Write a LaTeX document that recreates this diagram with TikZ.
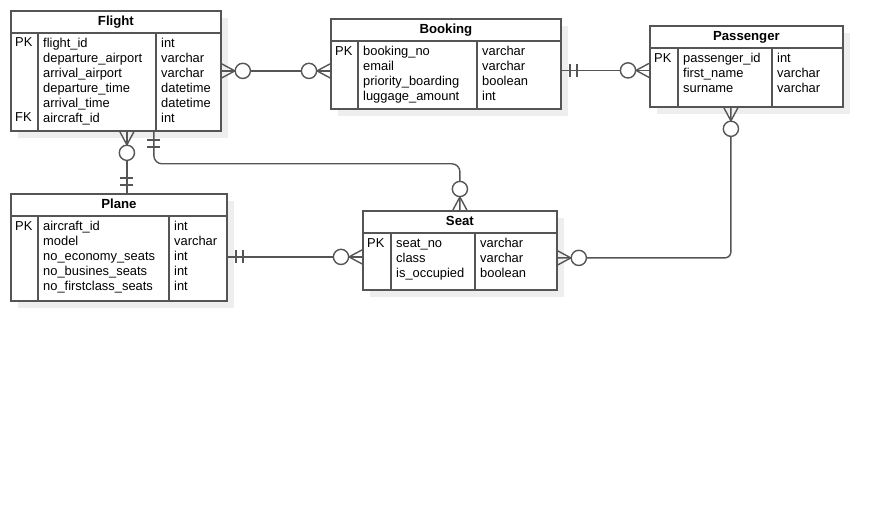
\documentclass[tikz,border=0pt]{standalone}
\usepackage{fontspec}
\setmainfont{Liberation Sans}
\usetikzlibrary{calc,shadows}

\definecolor{erline}{RGB}{85,85,85}
\definecolor{ershadow}{RGB}{238,238,238}

\tikzset{
  tbl/.style={draw=erline, line width=1.8pt, fill=white, rectangle, inner sep=0pt,
    anchor=north west,
    drop shadow={shadow xshift=7pt, shadow yshift=-7pt, fill=ershadow, opacity=1}},
  rule/.style={draw=erline, line width=1.6pt},
  conn/.style={draw=erline, line width=1.4pt},
  hdr/.style={font=\fontsize{13.2}{15}\selectfont\bfseries, inner sep=0pt, anchor=base},
  cell/.style={font=\fontsize{12.9}{15}\selectfont, inner sep=0pt, anchor=base west},
  % relationship end symbols, drawn along +x away from the entity edge
  crowfoot/.pic={\draw[erline, line width=1.4pt] (0,-7) -- (13,0) -- (0,7);},
  zerocirc/.pic={\draw[erline, line width=1.4pt, fill=white] (21,0) circle[radius=7.6];},
  onebars/.pic={\draw[erline, line width=1.5pt] (8,-6.5) -- (8,6.5) (15,-6.5) -- (15,6.5);},
}

% table frame: name, x, y, width, height, key divider, type divider, title
\newcommand\erframe[8]{%
  \node[tbl, minimum width=#4pt, minimum height=#5pt] (#1) at (#2,#3) {};
  \draw[rule] ($(#1.north west)+(0,23)$) -- ($(#1.north east)+(0,23)$);
  \draw[rule] ($(#1.north west)+(#6,23)$) -- ($(#1.south west)+(#6,0)$);
  \draw[rule] ($(#1.north west)+(#7,23)$) -- ($(#1.south west)+(#7,0)$);
  \node[hdr] (#1-title) at ($(#1.north)+(0,15.7)$) {#8};
}
% column of rows: table name, column tag, x offset, entries
\newcommand\ercol[4]{%
  \foreach \t [count=\i] in {#4}
    \node[cell] (#1-#2\i) at ($(#1.north west)+(#3,{38+15*(\i-1)})$) {\t};
}

\begin{document}
\begin{tikzpicture}[x=1pt,y=-1pt]
\fill[white] (0,0) rectangle (881,526);
\useasboundingbox (0,0) rectangle (881,526);

% Flight
\erframe{flight}{10}{10}{210}{120}{28}{146}{Flight}
\node[cell] (flight-pk) at ($(flight.north west)+(5,37)$) {PK};
\node[cell] (flight-fk) at ($(flight.north west)+(5,112)$) {FK};
\ercol{flight}{f}{33}{flight\_id,departure\_airport,arrival\_airport,departure\_time,arrival\_time,aircraft\_id}
\ercol{flight}{t}{151}{int,varchar,varchar,datetime,datetime,int}

% Booking
\erframe{booking}{330}{18}{230}{90}{28}{147}{Booking}
\node[cell] (booking-pk) at ($(booking.north west)+(5,38)$) {PK};
\ercol{booking}{f}{33}{booking\_no,email,priority\_boarding,luggage\_amount}
\ercol{booking}{t}{152}{varchar,varchar,boolean,int}

% Passenger
\erframe{passenger}{649}{25}{193}{81}{29}{123}{Passenger}
\node[cell] (passenger-pk) at ($(passenger.north west)+(5,38)$) {PK};
\ercol{passenger}{f}{34}{passenger\_id,first\_name,surname}
\ercol{passenger}{t}{128}{int,varchar,varchar}

% Plane
\erframe{plane}{10}{193}{216}{107}{28}{159}{Plane}
\node[cell] (plane-pk) at ($(plane.north west)+(5,38)$) {PK};
\ercol{plane}{f}{33}{aircraft\_id,model,no\_economy\_seats,no\_busines\_seats,no\_firstclass\_seats}
\ercol{plane}{t}{164}{int,varchar,int,int,int}

% Seat
\erframe{seat}{362}{210}{194}{79}{29}{113}{Seat}
\node[cell] (seat-pk) at ($(seat.north west)+(5,38)$) {PK};
\ercol{seat}{f}{34}{seat\_no,class,is\_occupied}
\ercol{seat}{t}{118}{varchar,varchar,boolean}

% Flight -- Booking (many to many)
\draw[conn] (flight.east) -- (flight.east -| booking.west);
\pic at (flight.east) {crowfoot}; \pic at (flight.east) {zerocirc};
\pic[rotate=180] at (flight.east -| booking.west) {crowfoot};
\pic[rotate=180] at (flight.east -| booking.west) {zerocirc};

% Booking -- Passenger
\coordinate (bp) at ($(booking.east)+(0,6.5)$);
\draw[conn] (bp) -- (bp -| passenger.west);
\pic at (bp) {onebars};
\pic[rotate=180] at (bp -| passenger.west) {crowfoot};
\pic[rotate=180] at (bp -| passenger.west) {zerocirc};

% Flight -- Plane
\coordinate (fp) at ($(flight.south)+(11,0)$);
\draw[conn] (fp) -- (fp |- plane.north);
\pic[rotate=-90] at (fp) {crowfoot}; \pic[rotate=-90] at (fp) {zerocirc};
\pic[rotate=90] at (fp |- plane.north) {onebars};

% Flight -- Seat
\coordinate (fs) at ($(flight.south)+(38,0)$);
\draw[conn, rounded corners=8] (fs) -- ($(fs)+(0,32)$) -| (seat.north);
\pic[rotate=-90] at (fs) {onebars};
\pic[rotate=90] at (seat.north) {crowfoot}; \pic[rotate=90] at (seat.north) {zerocirc};

% Plane -- Seat
\coordinate (pls) at ($(plane.east)+(0,9.5)$);
\draw[conn] (pls) -- (pls -| seat.west);
\pic at (pls) {onebars};
\pic[rotate=180] at (pls -| seat.west) {crowfoot};
\pic[rotate=180] at (pls -| seat.west) {zerocirc};

% Passenger -- Seat
\coordinate (ps) at ($(passenger.south)+(-15.5,0)$);
\coordinate (sp) at ($(seat.east)+(0,7.5)$);
\draw[conn, rounded corners=6] (ps) |- (sp);
\pic[rotate=-90] at (ps) {crowfoot}; \pic[rotate=-90] at (ps) {zerocirc};
\pic at (sp) {crowfoot}; \pic at (sp) {zerocirc};
\end{tikzpicture}
\end{document}
